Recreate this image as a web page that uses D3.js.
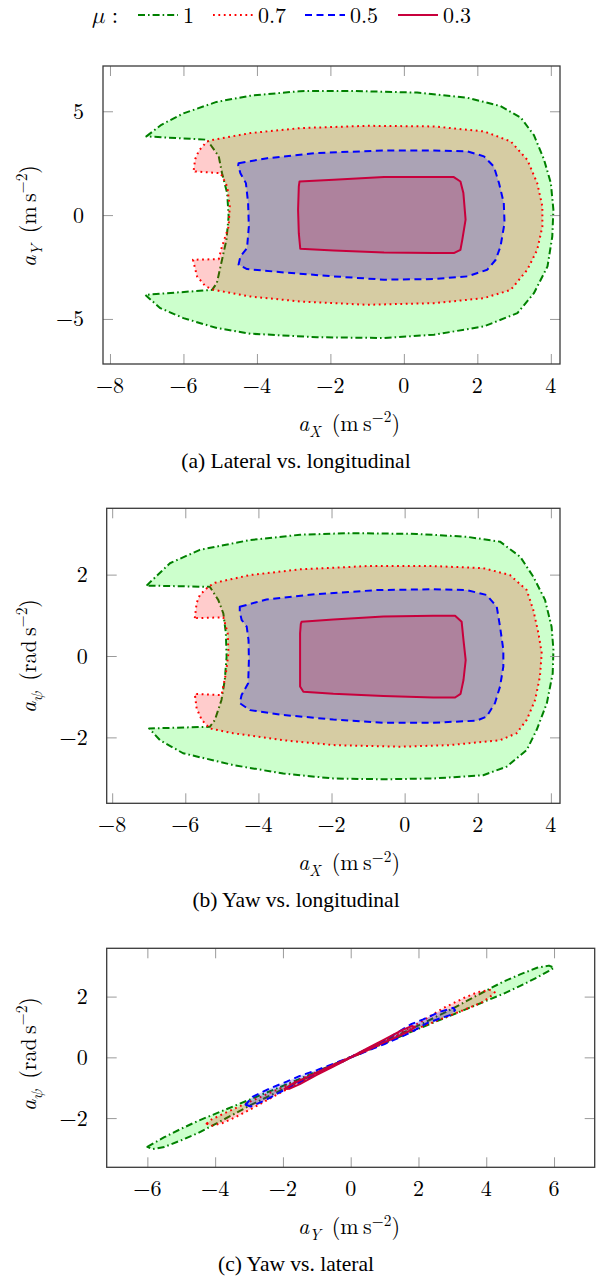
<!DOCTYPE html>
<html><head><meta charset="utf-8">
<script src="https://cdn.jsdelivr.net/npm/d3@7"></script>
<style>
body{margin:0;background:#fff}
svg{display:block}
</style>
</head><body>
<script>
// ---------- data ----------
const muLabels = ["1", "0.7", "0.5", "0.3"];

const xTicksAB = [-8, -6, -4, -2, 0, 2, 4];
const yTicksA = [-5, 0, 5];
const yTicksB = [-2, 0, 2];
const xTicksC = [-6, -4, -2, 0, 2, 4, 6];
const yTicksC = [-2, 0, 2];

// (a) lateral vs longitudinal : [aX, aY]
const aMu1 = [[-7.01,3.79],[-6.6,4.35],[-6.0,4.9],[-5.1,5.45],[-4.18,5.75],[-2.82,5.97],[-1.45,5.98],[0.36,5.9],[1.73,5.65],[2.63,5.25],[3.18,4.7],[3.54,3.85],[3.81,2.7],[4.0,1.55],[4.07,0.26],[4.04,-1.03],[3.91,-2.47],[3.54,-3.76],[3.09,-4.72],[2.18,-5.36],[0.82,-5.76],[-0.54,-5.92],[-2.36,-5.88],[-4.18,-5.71],[-5.09,-5.44],[-6.0,-4.96],[-6.63,-4.48],[-7.04,-3.84],[-5.22,-3.6],[-5.09,-3.27],[-4.95,-2.15],[-4.83,-1.19],[-4.77,-0.06],[-4.81,1.06],[-4.95,2.02],[-5.04,2.83],[-5.36,3.63]];
const aMu07 = [[-5.72,2.18],[-5.68,2.7],[-5.58,3.1],[-5.36,3.55],[-5.18,3.63],[-4.18,3.95],[-2.82,4.19],[-1.0,4.3],[0.82,4.27],[2.18,4.03],[2.91,3.55],[3.36,2.66],[3.63,1.54],[3.77,0.42],[3.77,-0.55],[3.63,-1.67],[3.36,-2.63],[2.91,-3.6],[2.18,-4.0],[0.82,-4.24],[-1.0,-4.32],[-2.82,-4.16],[-4.18,-3.92],[-5.18,-3.6],[-5.4,-3.43],[-5.63,-2.95],[-5.74,-2.15],[-5.04,-2.12],[-4.95,-1.51],[-4.77,-0.55],[-4.74,0.42],[-4.81,1.38],[-4.99,2.02],[-5.68,2.1]];
const aMu05 = [[-4.5,2.5],[-3.72,2.74],[-2.36,2.99],[-0.54,3.11],[0.82,3.11],[1.73,3.07],[2.18,2.83],[2.45,2.34],[2.59,1.54],[2.72,0.58],[2.74,-0.39],[2.63,-1.51],[2.5,-2.15],[2.27,-2.63],[1.73,-2.95],[0.82,-3.08],[-0.54,-3.11],[-1.91,-2.95],[-3.27,-2.76],[-4.27,-2.6],[-4.5,-2.39],[-4.45,-1.99],[-4.27,-1.59],[-4.22,-0.55],[-4.24,0.58],[-4.3,1.54],[-4.45,2.02],[-4.51,2.38]];
const aMu03 = [[-2.84,1.62],[-1.91,1.7],[-0.54,1.83],[0.82,1.83],[1.36,1.83],[1.54,1.62],[1.62,1.06],[1.68,-0.22],[1.59,-1.19],[1.54,-1.67],[1.36,-1.83],[0.82,-1.83],[-0.54,-1.8],[-1.91,-1.7],[-2.82,-1.62],[-2.86,-0.87],[-2.88,0.26],[-2.86,1.38]];

// (b) yaw vs longitudinal : [aX, aPsi]
const bMu1 = [[-7.06,1.73],[-6.42,2.28],[-5.6,2.61],[-4.23,2.85],[-2.86,2.98],[-1.5,3.02],[0.33,3.0],[1.7,2.93],[2.61,2.81],[3.16,2.44],[3.52,1.95],[3.84,1.38],[4.02,0.72],[4.07,0.15],[4.05,-0.43],[3.89,-1.16],[3.61,-1.82],[3.34,-2.31],[2.79,-2.72],[2.15,-2.93],[0.78,-3.01],[-0.58,-3.03],[-1.95,-3.01],[-3.32,-2.89],[-4.69,-2.68],[-6.06,-2.39],[-6.69,-2.07],[-6.99,-1.78],[-5.33,-1.74],[-5.19,-1.57],[-5.01,-1.08],[-4.92,-0.59],[-4.87,-0.02],[-4.89,0.56],[-4.96,1.05],[-5.1,1.38],[-5.33,1.7]];
const bMu07 = [[-5.74,0.93],[-5.69,1.3],[-5.6,1.5],[-5.37,1.7],[-5.19,1.8],[-4.23,1.99],[-2.86,2.13],[-1.04,2.21],[0.78,2.21],[2.15,2.16],[2.88,1.99],[3.34,1.62],[3.52,1.13],[3.66,0.56],[3.75,0.07],[3.7,-0.51],[3.57,-1.08],[3.34,-1.57],[3.06,-1.9],[2.61,-2.07],[1.24,-2.19],[-0.13,-2.23],[-1.95,-2.19],[-3.32,-2.07],[-4.69,-1.9],[-5.33,-1.78],[-5.55,-1.57],[-5.69,-1.29],[-5.74,-0.93],[-5.01,-0.96],[-4.89,-0.43],[-4.82,0.07],[-4.84,0.56],[-4.96,0.95]];
const bMu05 = [[-4.51,1.21],[-3.78,1.39],[-2.41,1.52],[-0.77,1.62],[0.78,1.64],[1.7,1.62],[2.24,1.5],[2.52,1.21],[2.61,0.72],[2.7,0.15],[2.7,-0.26],[2.61,-0.75],[2.47,-1.16],[2.24,-1.49],[1.97,-1.59],[0.78,-1.64],[-0.58,-1.64],[-1.95,-1.56],[-3.32,-1.45],[-4.23,-1.33],[-4.51,-1.16],[-4.46,-0.96],[-4.28,-0.67],[-4.26,-0.1],[-4.27,0.39],[-4.32,0.72],[-4.46,0.89],[-4.51,1.09]];
const bMu03 = [[-2.82,0.84],[-1.95,0.9],[-0.58,0.97],[0.78,0.99],[1.38,0.99],[1.56,0.84],[1.61,0.39],[1.67,-0.1],[1.61,-0.59],[1.53,-0.93],[1.38,-1.02],[0.78,-1.02],[-0.58,-0.98],[-1.95,-0.93],[-2.77,-0.88],[-2.86,-0.75],[-2.86,-0.1],[-2.86,0.56],[-2.84,0.79]];

// (c) yaw vs lateral : [aY, aPsi]
const cMu1 = [[-6.0,-2.95],[-5.85,-2.85],[-5.5,-2.63],[-5.0,-2.35],[-4.5,-2.09],[-4.0,-1.86],[-3.0,-1.4],[-2.0,-0.94],[-1.0,-0.47],[0,0.01],[1.0,0.52],[2.0,1.05],[3.0,1.6],[4.0,2.2],[4.5,2.49],[5.0,2.73],[5.5,2.95],[5.85,3.02],[6.0,2.95],[5.85,2.85],[5.5,2.63],[5.0,2.35],[4.5,2.09],[4.0,1.86],[3.0,1.4],[2.0,0.94],[1.0,0.47],[0,-0.01],[-1.0,-0.52],[-2.0,-1.05],[-3.0,-1.6],[-4.0,-2.2],[-4.5,-2.49],[-5.0,-2.73],[-5.5,-2.95],[-5.85,-3.02]];
const cMu07 = [[-4.25,-2.18],[-4.1,-2.04],[-3.7,-1.83],[-3.0,-1.47],[-2.0,-0.98],[-1.0,-0.48],[0,0.01],[1.0,0.54],[2.0,1.12],[2.73,1.62],[3.37,1.97],[3.76,2.15],[4.1,2.22],[4.25,2.14],[4.1,1.98],[3.86,1.8],[3.47,1.62],[2.98,1.4],[2.0,0.96],[1.0,0.48],[0,-0.01],[-1.0,-0.54],[-2.0,-1.12],[-2.87,-1.66],[-3.4,-1.97],[-3.8,-2.17],[-4.12,-2.26]];
const cMu05 = [[-3.1,-1.56],[-2.95,-1.62],[-2.5,-1.4],[-1.9,-1.04],[-1.5,-0.82],[-1.0,-0.54],[0,-0.01],[1.0,0.44],[1.6,0.73],[1.9,0.9],[2.24,1.12],[2.63,1.28],[2.93,1.39],[3.08,1.55],[3.03,1.63],[2.63,1.5],[2.14,1.25],[1.8,1.1],[1.0,0.56],[0,0.01],[-1.0,-0.42],[-1.5,-0.61],[-1.89,-0.8],[-2.38,-1.02],[-2.9,-1.3]];
const cMu03 = [[-1.95,-1.04],[-1.8,-1.03],[-1.5,-0.88],[-1.0,-0.58],[-0.5,-0.3],[0,-0.01],[0.5,0.24],[1.0,0.5],[1.3,0.64],[1.7,0.85],[1.9,1.0],[1.8,1.03],[1.5,0.89],[1.0,0.59],[0.5,0.3],[0,0.01],[-0.5,-0.24],[-1.0,-0.5],[-1.3,-0.66],[-1.7,-0.86]];

// ---------- styles ----------
const styles = [
  {stroke:"#008000", fill:"#00ff00", dash:"7,3,1.6,3"},
  {stroke:"#ff0000", fill:"#ff0000", dash:"1.8,3.6"},
  {stroke:"#0000ff", fill:"#0000ff", dash:"7,4.5"},
  {stroke:"#c8003c", fill:"#bf0040", dash:null}
];
const MATH = '"Latin Modern Roman","Latin Modern Math","DejaVu Serif",serif';
const TEXT = '"Liberation Serif","Times New Roman",serif';

const W = 605, H = 1286;
const svg = d3.select("body").append("svg").attr("width", W).attr("height", H);

function richText(g, x, y, parts, size, rotate) {
  const t = g.append("text").attr("x", x).attr("y", y)
    .attr("text-anchor", "middle").style("font-family", MATH).style("font-size", size + "px");
  if (rotate) t.attr("transform", `rotate(-90,${x},${y})`);
  let shift = 0;
  parts.forEach(p => {
    const s = t.append("tspan").text(p.t);
    let target = 0;
    if (p.sub) { target = size * 0.25; s.style("font-size", (size * 0.7) + "px"); }
    if (p.sup) { target = -size * 0.4; s.style("font-size", (size * 0.7) + "px"); }
    if (p.it) s.style("font-style", "italic");
    if (target - shift !== 0) s.attr("dy", target - shift);
    shift = target;
  });
  return t;
}

function panel(cfg) {
  const g = svg.append("g");
  const x = d3.scaleLinear().domain(cfg.xd).range([cfg.l, cfg.r]);
  const y = d3.scaleLinear().domain(cfg.yd).range([cfg.b, cfg.t]);
  const line = d3.line().x(d => x(d[0])).y(d => y(d[1])).curve(d3.curveLinearClosed);
  const clipId = "clip" + cfg.id;
  svg.append("clipPath").attr("id", clipId).append("rect")
    .attr("x", cfg.l).attr("y", cfg.t).attr("width", cfg.r - cfg.l).attr("height", cfg.b - cfg.t);
  const shapes = g.append("g").attr("clip-path", `url(#${clipId})`);
  cfg.series.forEach((s, i) => {
    const st = styles[i];
    shapes.append("path").attr("d", line(s))
      .attr("fill", st.fill).attr("fill-opacity", 0.2)
      .attr("stroke", st.stroke).attr("stroke-width", 2)
      .attr("stroke-linejoin", "round")
      .attr("stroke-dasharray", st.dash);
  });
  const tl = 10;
  const ax = g.append("g");
  ax.append("g").attr("transform", `translate(0,${cfg.b})`).call(d3.axisBottom(x).tickValues(cfg.xt).tickSize(-tl).tickFormat(""));
  ax.append("g").attr("transform", `translate(0,${cfg.t})`).call(d3.axisTop(x).tickValues(cfg.xt).tickSize(-tl).tickFormat(""));
  ax.append("g").attr("transform", `translate(${cfg.l},0)`).call(d3.axisLeft(y).tickValues(cfg.yt).tickSize(-tl).tickFormat(""));
  ax.append("g").attr("transform", `translate(${cfg.r},0)`).call(d3.axisRight(y).tickValues(cfg.yt).tickSize(-tl).tickFormat(""));
  ax.selectAll(".domain").remove();
  ax.selectAll(".tick line").attr("stroke", "#9a9a9a").attr("stroke-width", 1);
  g.append("rect").attr("x", cfg.l).attr("y", cfg.t).attr("width", cfg.r - cfg.l).attr("height", cfg.b - cfg.t)
    .attr("fill", "none").attr("stroke", "#3a3a3a").attr("stroke-width", 1.3);
  const fmt = d3.format("d");
  g.selectAll(null).data(cfg.xt).enter().append("text")
    .attr("x", d => x(d)).attr("y", cfg.b + 29).attr("text-anchor", "middle")
    .style("font-family", MATH).style("font-size", "22px").text(d => fmt(d));
  g.selectAll(null).data(cfg.yt).enter().append("text")
    .attr("x", cfg.l - 19).attr("y", d => y(d) + 7.5).attr("text-anchor", "end")
    .style("font-family", MATH).style("font-size", "22px").text(d => fmt(d));
  richText(g, 349, cfg.b + 67, cfg.xlab, 22, false);
  richText(g, 36, cfg.ylabY, cfg.ylab, 22, true);
  g.append("text").attr("x", 296).attr("y", cfg.b + 104).attr("text-anchor", "middle")
    .style("font-family", TEXT).style("font-size", "21.5px").text(cfg.caption);
}

const labAX = [{t:"a",it:true},{t:"X",it:true,sub:true},{t:"\u2002(m\u2009s"},{t:"−2",sup:true},{t:")"}];
const labAY = [{t:"a",it:true},{t:"Y",it:true,sub:true},{t:"\u2002(m\u2009s"},{t:"−2",sup:true},{t:")"}];
const labPsi = [{t:"a",it:true},{t:"ψ",it:true,sub:true},{t:"\u2002(rad\u2009s"},{t:"−2",sup:true},{t:")"}];

panel({id:"a", l:103, r:560, t:66, b:364, xd:[-8.19,4.25], yd:[-7.17,7.18], xt:xTicksAB, yt:yTicksA,
  series:[aMu1,aMu07,aMu05,aMu03], xlab:labAX, ylab:labAY, ylabY:216, caption:"(a) Lateral vs. longitudinal"});
panel({id:"b", l:106.7, r:560, t:508.3, b:803.3, xd:[-8.15,4.25], yd:[-3.62,3.63], xt:xTicksAB, yt:yTicksB,
  series:[bMu1,bMu07,bMu05,bMu03], xlab:labAX, ylab:labPsi, ylabY:656, caption:"(b) Yaw vs. longitudinal"});
panel({id:"c", l:106.7, r:594.7, t:948.3, b:1167.3, xd:[-7.2,7.2], yd:[-3.62,3.59], xt:xTicksC, yt:yTicksC,
  series:[cMu1,cMu07,cMu05,cMu03], xlab:labAY, ylab:labPsi, ylabY:1054, caption:"(c) Yaw vs. lateral"});

// ---------- legend ----------
const leg = svg.append("g");
const mu = leg.append("text").attr("x", 92).attr("y", 23).style("font-family", MATH).style("font-size", "23px");
mu.append("tspan").style("font-style", "italic").text("μ");
mu.append("tspan").text(" :");
const legX = [138, 213, 305, 398];
muLabels.forEach((m, i) => {
  const st = styles[i];
  leg.append("line").attr("x1", legX[i]).attr("x2", legX[i] + 40).attr("y1", 15).attr("y2", 15)
    .attr("stroke", st.stroke).attr("stroke-width", 2).attr("stroke-dasharray", st.dash);
  leg.append("text").attr("x", legX[i] + 45).attr("y", 23).style("font-family", MATH).style("font-size", "22px").text(m);
});
</script>
</body></html>
